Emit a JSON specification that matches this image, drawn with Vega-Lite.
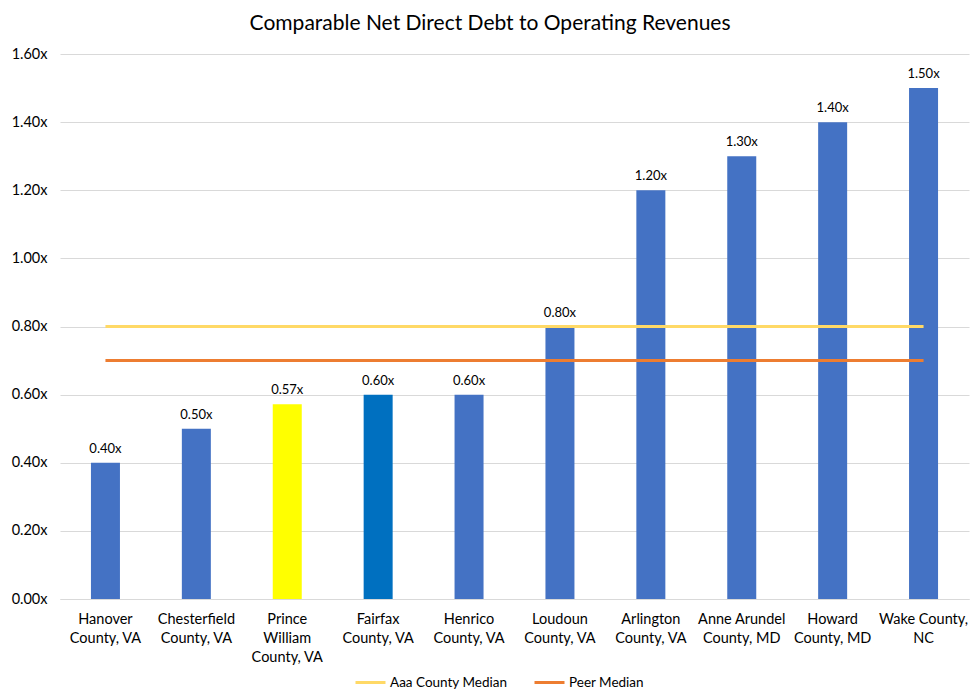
{
  "$schema": "https://vega.github.io/schema/vega-lite/v6.json",
  "width": 970,
  "height": 696,
  "autosize": {"type": "fit", "contains": "padding"},
  "padding": {"left": 11, "right": 1, "top": 13, "bottom": 32},
  "background": "white",
  "config": {
    "font": "Lato",
    "view": {"stroke": null}
  },
  "title": {
    "text": "Comparable Net Direct Debt to Operating Revenues",
    "fontSize": 21,
    "font": "Lato",
    "fontWeight": "normal",
    "color": "#000000",
    "anchor": "middle",
    "frame": "bounds",
    "offset": 12
  },
  "datasets": {
    "bars": [
      {"county": "Hanover County, VA", "value": 0.40, "label": "0.40x", "group": "Peer"},
      {"county": "Chesterfield County, VA", "value": 0.50, "label": "0.50x", "group": "Peer"},
      {"county": "Prince William County, VA", "value": 0.572, "label": "0.57x", "group": "Prince William"},
      {"county": "Fairfax County, VA", "value": 0.60, "label": "0.60x", "group": "Fairfax"},
      {"county": "Henrico County, VA", "value": 0.60, "label": "0.60x", "group": "Peer"},
      {"county": "Loudoun County, VA", "value": 0.80, "label": "0.80x", "group": "Peer"},
      {"county": "Arlington County, VA", "value": 1.20, "label": "1.20x", "group": "Peer"},
      {"county": "Anne Arundel County, MD", "value": 1.30, "label": "1.30x", "group": "Peer"},
      {"county": "Howard County, MD", "value": 1.40, "label": "1.40x", "group": "Peer"},
      {"county": "Wake County, NC", "value": 1.50, "label": "1.50x", "group": "Peer"}
    ],
    "medians": [
      {"county": "Hanover County, VA", "series": "Aaa County Median", "value": 0.8},
      {"county": "Chesterfield County, VA", "series": "Aaa County Median", "value": 0.8},
      {"county": "Prince William County, VA", "series": "Aaa County Median", "value": 0.8},
      {"county": "Fairfax County, VA", "series": "Aaa County Median", "value": 0.8},
      {"county": "Henrico County, VA", "series": "Aaa County Median", "value": 0.8},
      {"county": "Loudoun County, VA", "series": "Aaa County Median", "value": 0.8},
      {"county": "Arlington County, VA", "series": "Aaa County Median", "value": 0.8},
      {"county": "Anne Arundel County, MD", "series": "Aaa County Median", "value": 0.8},
      {"county": "Howard County, MD", "series": "Aaa County Median", "value": 0.8},
      {"county": "Wake County, NC", "series": "Aaa County Median", "value": 0.8},
      {"county": "Hanover County, VA", "series": "Peer Median", "value": 0.7},
      {"county": "Chesterfield County, VA", "series": "Peer Median", "value": 0.7},
      {"county": "Prince William County, VA", "series": "Peer Median", "value": 0.7},
      {"county": "Fairfax County, VA", "series": "Peer Median", "value": 0.7},
      {"county": "Henrico County, VA", "series": "Peer Median", "value": 0.7},
      {"county": "Loudoun County, VA", "series": "Peer Median", "value": 0.7},
      {"county": "Arlington County, VA", "series": "Peer Median", "value": 0.7},
      {"county": "Anne Arundel County, MD", "series": "Peer Median", "value": 0.7},
      {"county": "Howard County, MD", "series": "Peer Median", "value": 0.7},
      {"county": "Wake County, NC", "series": "Peer Median", "value": 0.7}
    ]
  },
  "encoding": {
    "x": {
      "field": "county",
      "type": "nominal",
      "sort": null,
      "scale": {"paddingInner": 0, "paddingOuter": 0},
      "axis": {
        "title": null,
        "labelAngle": 0,
        "labelFontSize": 14.5,
        "labelColor": "#000000",
        "labelPadding": 13,
        "labelLineHeight": 19,
        "ticks": false,
        "domainColor": "#d9d9d9",
        "domainWidth": 1,
        "labelExpr": "datum.label == 'Prince William County, VA' ? ['Prince', 'William', 'County, VA'] : datum.label == 'Wake County, NC' ? ['Wake County,', 'NC'] : split(replace(datum.label, ' County', '|County'), '|')"
      }
    }
  },
  "layer": [
    {
      "data": {"name": "bars"},
      "mark": {"type": "bar", "width": 29},
      "encoding": {
        "y": {
          "field": "value",
          "type": "quantitative",
          "scale": {"domain": [0, 1.6], "nice": false},
          "axis": {
            "title": null,
            "values": [0, 0.2, 0.4, 0.6, 0.8, 1.0, 1.2, 1.4, 1.6],
            "labelExpr": "format(datum.value, '.2f') + 'x'",
            "labelFontSize": 14.5,
            "labelColor": "#000000",
            "labelPadding": 13,
            "ticks": false,
            "domain": false,
            "gridColor": "#d9d9d9",
            "gridWidth": 1
          }
        },
        "color": {
          "field": "group",
          "type": "nominal",
          "scale": {"domain": ["Peer", "Prince William", "Fairfax"], "range": ["#4472C4", "#FFFF00", "#0070C0"]},
          "legend": null
        }
      }
    },
    {
      "data": {"name": "bars"},
      "mark": {"type": "text", "dy": -14, "fontSize": 13, "color": "#000000"},
      "encoding": {
        "y": {"field": "value", "type": "quantitative"},
        "text": {"field": "label"}
      }
    },
    {
      "data": {"name": "medians"},
      "mark": {"type": "line", "strokeWidth": 3},
      "encoding": {
        "y": {"field": "value", "type": "quantitative"},
        "stroke": {
          "field": "series",
          "type": "nominal",
          "scale": {"domain": ["Aaa County Median", "Peer Median"], "range": ["#FFD966", "#ED7D31"]},
          "legend": {
            "title": null,
            "orient": "none",
            "legendX": 294,
            "legendY": 612,
            "direction": "horizontal",
            "symbolType": "stroke",
            "symbolStrokeWidth": 3,
            "symbolSize": 900,
            "labelFontSize": 13.5,
            "labelOffset": 3,
            "labelColor": "#000000",
            "columnPadding": 20
          }
        }
      }
    }
  ]
}
